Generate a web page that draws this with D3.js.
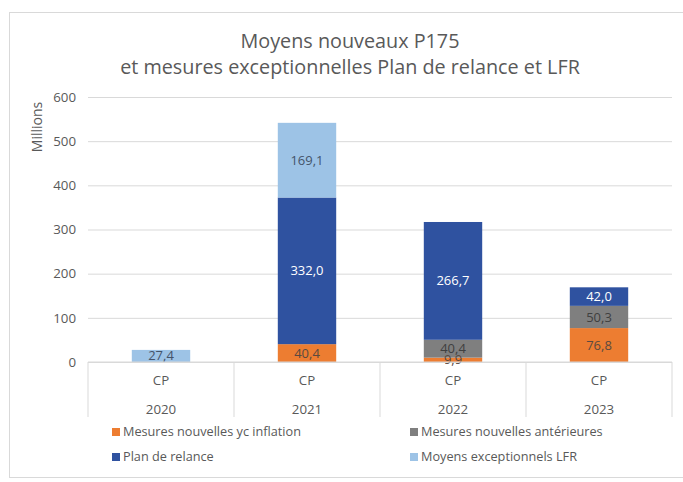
<!DOCTYPE html>
<html>
<head>
<meta charset="utf-8">
<script src="https://cdn.jsdelivr.net/npm/d3@7"></script>
<style>
  body { margin: 0; background: #fff; }
  text { font-family: "Open Sans", "Noto Sans", sans-serif; fill: #595959; }
</style>
</head>
<body>
<script>
// data (millions)
const years = ["2020", "2021", "2022", "2023"];
const subLabel = "CP";
const seriesNames = ["Mesures nouvelles yc inflation", "Mesures nouvelles antérieures", "Plan de relance", "Moyens exceptionnels LFR"];
const mesuresNouvelles = [0, 40.4, 9.9, 76.8];
const mesuresAnterieures = [0, 0, 40.4, 50.3];
const planRelance = [0, 332.0, 266.7, 42.0];
const moyensLFR = [27.4, 169.1, 0, 0];
const yTicks = [0, 100, 200, 300, 400, 500, 600];

const colors = ["#ED7D31", "#7F7F7F", "#2F52A0", "#9DC3E6"];
const labelColors = ["#5a4a40", "#404040", "#ffffff", "#44546A"];

let width = 683, height = 482;
let margin = {left: 88, right: 11, top: 97, bottom: 120};

let table = years.map(function(y, i) {
  return {year: y, s0: mesuresNouvelles[i], s1: mesuresAnterieures[i], s2: planRelance[i], s3: moyensLFR[i]};
});
let keys = ["s0", "s1", "s2", "s3"];
let stacked = d3.stack().keys(keys)(table);

let svg = d3.select("body").append("svg")
  .attr("width", width)
  .attr("height", height);

// chart frame
svg.append("rect")
  .attr("x", 9.5).attr("y", 12.5)
  .attr("width", 700).attr("height", 465)
  .attr("fill", "#fff")
  .attr("stroke", "#D9D9D9");

let x = d3.scaleBand()
  .domain(years)
  .range([margin.left, width - margin.right]);
let y = d3.scaleLinear()
  .domain([0, 600])
  .range([height - margin.bottom, margin.top]);
let barW = x.bandwidth() * 0.4;

// title
let title = svg.append("text")
  .attr("text-anchor", "middle")
  .style("font-size", "19.8px");
title.append("tspan").attr("x", 350).attr("y", 48).text("Moyens nouveaux P175");
title.append("tspan").attr("x", 350).attr("y", 74).text("et mesures exceptionnelles Plan de relance et LFR");

// gridlines
svg.append("g")
  .attr("transform", "translate(" + margin.left + ",0)")
  .call(d3.axisLeft(y).tickValues(yTicks).tickSize(-(width - margin.right - margin.left)).tickFormat(""))
  .call(function(g) { g.select(".domain").remove(); })
  .call(function(g) { g.selectAll("line").attr("stroke", "#D9D9D9"); });

// y labels
svg.append("g")
  .attr("transform", "translate(" + (margin.left - 12) + ",0)")
  .call(d3.axisLeft(y).tickValues(yTicks).tickSize(0).tickPadding(0))
  .call(function(g) { g.select(".domain").remove(); })
  .call(function(g) { g.selectAll("text").style("font-size", "13.3px").attr("fill", "#595959").style("font-family", "'Open Sans', sans-serif"); });

svg.append("text")
  .attr("transform", "translate(42," + 127 + ") rotate(-90)")
  .attr("text-anchor", "middle")
  .style("font-size", "14px")
  .text("Millions");

// bars
let groups = svg.append("g").selectAll("g")
  .data(stacked)
  .enter().append("g")
  .attr("fill", function(d, i) { return colors[i]; });

groups.selectAll("rect")
  .data(function(d) { return d; })
  .enter().append("rect")
  .attr("x", function(d) { return x(d.data.year) + (x.bandwidth() - barW) / 2; })
  .attr("y", function(d) { return y(d[1]); })
  .attr("width", barW)
  .attr("height", function(d) { return y(d[0]) - y(d[1]); });

// value labels
let fmt = function(v) { return d3.format(".1f")(v).replace(".", ","); };
stacked.forEach(function(s, i) {
  svg.append("g").selectAll("text")
    .data(s.filter(function(d) { return d[1] - d[0] > 0; }))
    .enter().append("text")
    .attr("x", function(d) { return x(d.data.year) + x.bandwidth() / 2; })
    .attr("y", function(d) { return y((d[0] + d[1]) / 2); })
    .attr("dy", "0.35em")
    .attr("text-anchor", "middle")
    .style("font-size", "13px")
    .style("fill", labelColors[i])
    .text(function(d) { return fmt(d[1] - d[0]); });
});

// category axis (two levels)
let base = y(0);
let cat = svg.append("g").attr("stroke", "#D9D9D9");
cat.append("line")
  .attr("x1", margin.left).attr("x2", width - margin.right)
  .attr("y1", base).attr("y2", base);
cat.selectAll(".div")
  .data(years.map(function(d) { return x(d); }).concat([width - margin.right]))
  .enter().append("line")
  .attr("x1", function(d) { return d; }).attr("x2", function(d) { return d; })
  .attr("y1", base).attr("y2", base + 55);

svg.append("g").selectAll("text")
  .data(years)
  .enter().append("text")
  .attr("x", function(d) { return x(d) + x.bandwidth() / 2; })
  .attr("y", base + 23)
  .attr("text-anchor", "middle")
  .style("font-size", "13.3px")
  .text(subLabel);

svg.append("g").selectAll("text")
  .data(years)
  .enter().append("text")
  .attr("x", function(d) { return x(d) + x.bandwidth() / 2; })
  .attr("y", base + 52)
  .attr("text-anchor", "middle")
  .style("font-size", "13.3px")
  .text(function(d) { return d; });

// legend
let legendX = [112, 410], legendY = [432, 457];
let legend = svg.append("g").selectAll("g")
  .data(seriesNames)
  .enter().append("g")
  .attr("transform", function(d, i) { return "translate(" + legendX[i % 2] + "," + legendY[Math.floor(i / 2)] + ")"; });
legend.append("rect")
  .attr("x", 0).attr("y", -4)
  .attr("width", 8).attr("height", 8)
  .attr("fill", function(d, i) { return colors[i]; });
legend.append("text")
  .attr("x", 11)
  .attr("dy", "0.35em")
  .style("font-size", "12.7px")
  .text(function(d) { return d; });
</script>
</body>
</html>
